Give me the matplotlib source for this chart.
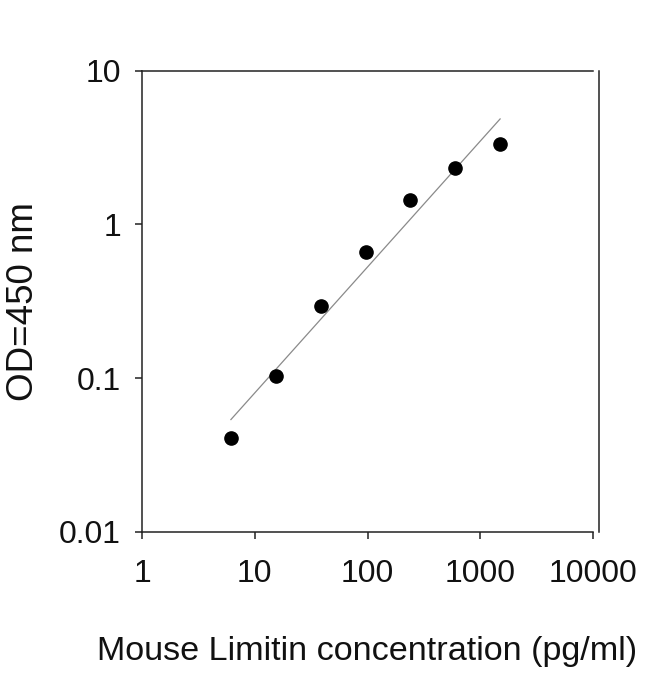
import numpy as np
import matplotlib
matplotlib.use("Agg")
import matplotlib.pyplot as plt
from matplotlib.ticker import FixedLocator, FixedFormatter, NullLocator

# standard curve: 2.5-fold dilution series
conc = [6.144, 15.36, 38.4, 96, 240, 600, 1500]
od = [0.0406, 0.103, 0.296, 0.659, 1.44, 2.32, 3.34]

x_ticks = [1, 10, 100, 1000, 10000]
x_tick_labels = ["1", "10", "100", "1000", "10000"]
y_ticks = [0.01, 0.1, 1, 10]
y_tick_labels = ["0.01", "0.1", "1", "10"]

plt.rcParams['font.family'] = ['Liberation Sans', 'DejaVu Sans']


def main():
    fig = plt.figure(figsize=(6.5, 6.74), dpi=100)
    ax = fig.add_axes([0.2185, 0.2114, 0.6938, 0.6833])

    # log-log linear fit drawn over the data range
    lx = np.log10(conc)
    ly = np.log10(od)
    slope, icpt = np.polyfit(lx, ly, 1)
    fx = np.array([lx[0], lx[-1]])
    ax.plot(10 ** fx, 10 ** (icpt + slope * fx), color="#8a8a8a", lw=0.9, zorder=2)

    ax.plot(conc, od, "o", color="black", ms=9.5, zorder=3)

    ax.set_xscale("log")
    ax.set_yscale("log")
    ax.set_xlim(1, 10000)
    ax.set_ylim(0.01, 10)

    ax.xaxis.set_major_locator(FixedLocator(x_ticks))
    ax.xaxis.set_major_formatter(FixedFormatter(x_tick_labels))
    ax.yaxis.set_major_locator(FixedLocator(y_ticks))
    ax.yaxis.set_major_formatter(FixedFormatter(y_tick_labels))
    ax.xaxis.set_minor_locator(NullLocator())
    ax.yaxis.set_minor_locator(NullLocator())

    for s in ax.spines.values():
        s.set_linewidth(1.1)
        s.set_color("#222222")
    ax.spines["right"].set_position(("outward", 4))

    ax.tick_params(axis="both", direction="out", length=5, width=1.1,
                   color="#222222", labelsize=23, labelcolor="#111111")
    ax.tick_params(axis="x", pad=15)
    ax.tick_params(axis="y", pad=10)

    ax.set_xlabel("Mouse Limitin concentration (pg/ml)", fontsize=24.6, color="#111111")
    ax.set_ylabel("OD=450 nm", fontsize=26.5, color="#111111")
    ax.xaxis.set_label_coords(0.5, -0.227)
    ax.yaxis.set_label_coords(-0.224, 0.5)

    fig.savefig("out.png", dpi=100, facecolor="white")


if __name__ == "__main__":
    main()
